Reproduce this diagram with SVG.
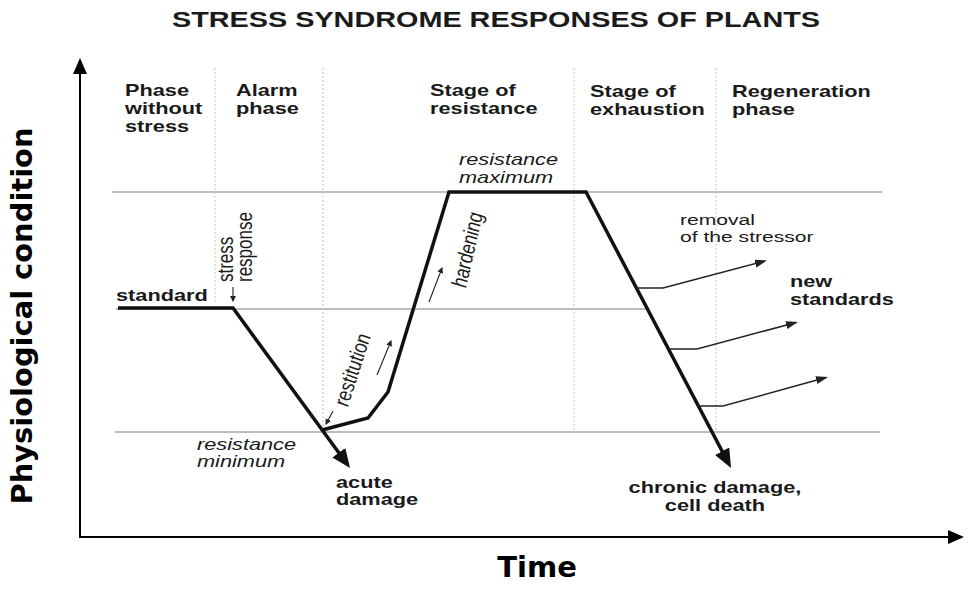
<svg xmlns="http://www.w3.org/2000/svg" width="974" height="605" viewBox="0 0 974 605">
<style>
  .t { font-family: "Liberation Sans", Arial, sans-serif; fill: #1a1a1a; }
  .b { font-weight: bold; font-size: 16px; }
  .r { font-size: 15.5px; }
  .i { font-style: italic; font-size: 16px; }
  .ri { font-style: italic; font-size: 17px; }
  .rr { font-size: 17px; }
  .ax { font-family: "DejaVu Sans", Verdana, sans-serif; font-weight: bold; fill: #000; }
  .grid { stroke: #7a7a7a; stroke-width: 1; fill: none; }
  .dot { stroke: #c4c4c4; stroke-width: 1; stroke-dasharray: 2 2; fill: none; }
  .curve { stroke: #111; stroke-width: 3.5; fill: none; stroke-linejoin: miter; }
  .branch { stroke: #222; stroke-width: 1.5; fill: none; }
  .small { stroke: #222; stroke-width: 1.1; fill: none; }
  .axis { stroke: #000; stroke-width: 2; fill: none; }
</style>
<defs>
  <marker id="bigHead" markerUnits="userSpaceOnUse" markerWidth="20" markerHeight="18" refX="13" refY="8" orient="auto">
    <path d="M0,0 L19,8 L0,16 z" fill="#111"/>
  </marker>
  <marker id="thinHead" markerUnits="userSpaceOnUse" markerWidth="14" markerHeight="10" refX="10" refY="4" orient="auto">
    <path d="M0,0 L12,4 L0,8 z" fill="#222"/>
  </marker>
  <marker id="tinyHead" markerUnits="userSpaceOnUse" markerWidth="8" markerHeight="8" refX="5" refY="3" orient="auto">
    <path d="M0,0 L6,3 L0,6 z" fill="#222"/>
  </marker>
  <marker id="axisHead" markerUnits="userSpaceOnUse" markerWidth="18" markerHeight="16" refX="13" refY="7" orient="auto">
    <path d="M0,0 L16,7 L0,14 z" fill="#000"/>
  </marker>
</defs>

<text class="t" x="496" y="27" font-size="22" font-weight="bold" fill="#1e1e1e" text-anchor="middle" textLength="648" lengthAdjust="spacingAndGlyphs">STRESS SYNDROME RESPONSES OF PLANTS</text>

<g id="grid">
  <line class="grid" x1="112" y1="192" x2="882" y2="192"/>
  <line class="grid" x1="116" y1="309" x2="646" y2="309"/>
  <line class="grid" x1="115" y1="432" x2="880" y2="432"/>
  <line class="dot" x1="215" y1="68" x2="215" y2="304"/>
  <line class="dot" x1="323" y1="68" x2="323" y2="430"/>
  <line class="dot" x1="574" y1="68" x2="574" y2="432"/>
  <line class="dot" x1="716" y1="68" x2="716" y2="432"/>
</g>

<g id="axes">
  <line class="axis" x1="80" y1="538" x2="80" y2="61" marker-end="url(#axisHead)"/>
  <line class="axis" x1="79" y1="537" x2="961" y2="537" marker-end="url(#axisHead)"/>
  <text class="ax" font-size="28" text-anchor="middle" textLength="377" lengthAdjust="spacingAndGlyphs" transform="translate(32,316) rotate(-90)">Physiological condition</text>
  <text class="ax" font-size="29" x="537" y="577" text-anchor="middle">Time</text>
</g>

<g id="phases">
  <text class="t b" transform="matrix(1.36 0 0 1 125 96)"><tspan x="0">Phase</tspan><tspan x="0" dy="18">without</tspan><tspan x="0" dy="18">stress</tspan></text>
  <text class="t b" transform="matrix(1.36 0 0 1 236 96)"><tspan x="0">Alarm</tspan><tspan x="0" dy="18">phase</tspan></text>
  <text class="t b" transform="matrix(1.36 0 0 1 430 96)"><tspan x="0">Stage of</tspan><tspan x="0" dy="18">resistance</tspan></text>
  <text class="t b" transform="matrix(1.36 0 0 1 590 97)"><tspan x="0">Stage of</tspan><tspan x="0" dy="18">exhaustion</tspan></text>
  <text class="t b" transform="matrix(1.36 0 0 1 732 97)"><tspan x="0">Regeneration</tspan><tspan x="0" dy="18">phase</tspan></text>
</g>

<g id="connectors">
  <path class="curve" d="M118,308 H233 L346.5,463.2" marker-end="url(#bigHead)"/>
  <path class="curve" d="M322,430 L368,418 L388,392 L449,192 H586 L728.2,462.7" marker-end="url(#bigHead)"/>
  <path class="branch" d="M636,288 H663 L765,261" marker-end="url(#thinHead)"/>
  <path class="branch" d="M668,349 H697 L796,322.5" marker-end="url(#thinHead)"/>
  <path class="branch" d="M698,406 H723 L826,377.5" marker-end="url(#thinHead)"/>
  <line class="small" x1="233" y1="287" x2="233" y2="301" marker-end="url(#tinyHead)"/>
  <line class="small" x1="429" y1="302" x2="442" y2="268" marker-end="url(#tinyHead)"/>
  <line class="small" x1="377" y1="375" x2="391" y2="341" marker-end="url(#tinyHead)"/>
  <line class="small" x1="333" y1="411" x2="326" y2="424" marker-end="url(#tinyHead)"/>
</g>

<g id="labels">
  <text class="t b" transform="matrix(1.36 0 0 1 116 301)">standard</text>
  <text class="t rr" transform="matrix(1.3 0 0 1 233 282) rotate(-90)">stress</text>
  <text class="t rr" transform="matrix(1.3 0 0 1 252 282) rotate(-90)">response</text>
  <text class="t i" transform="matrix(1.36 0 0 1 459 165)"><tspan x="0">resistance</tspan><tspan x="0" dy="18">maximum</tspan></text>
  <text class="t ri" transform="matrix(1.3 0 0 1 466 288) rotate(-80)">hardening</text>
  <text class="t ri" transform="matrix(1.3 0 0 1 348 407) rotate(-76)">restitution</text>
  <text class="t i" transform="matrix(1.36 0 0 1 197 450)"><tspan x="0">resistance</tspan><tspan x="0" dy="17">minimum</tspan></text>
  <text class="t b" transform="matrix(1.36 0 0 1 336 488)"><tspan x="0">acute</tspan><tspan x="0" dy="17">damage</tspan></text>
  <text class="t b" text-anchor="middle" transform="matrix(1.36 0 0 1 715 493)"><tspan x="0">chronic damage,</tspan><tspan x="0" dy="18">cell death</tspan></text>
  <text class="t r" transform="matrix(1.36 0 0 1 680 225)"><tspan x="0">removal</tspan><tspan x="0" dy="17">of the stressor</tspan></text>
  <text class="t b" transform="matrix(1.36 0 0 1 790 287)"><tspan x="0">new</tspan><tspan x="0" dy="18">standards</tspan></text>
</g>
</svg>
